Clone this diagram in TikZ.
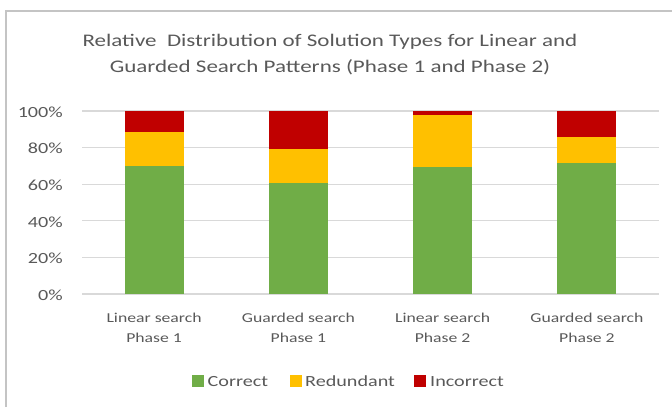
\documentclass[tikz,border=0pt]{standalone}
\usepackage{fontspec}
\setmainfont{Carlito}[FakeStretch=1.3]
\definecolor{okgreen}{HTML}{70AD47}
\definecolor{redund}{HTML}{FFC000}
\definecolor{wrong}{HTML}{C00000}
\definecolor{txtgray}{HTML}{595959}
\definecolor{gridgray}{HTML}{D9D9D9}
\definecolor{framegray}{HTML}{C4C4C4}
\begin{document}
\begin{tikzpicture}[x=1pt,y=-1pt,
    lbl/.style={text=txtgray,inner sep=0pt,font=\fontsize{15.5}{18}\selectfont},
    catlbl/.style={text=txtgray,inner sep=0pt,anchor=base,font=\fontsize{13.6}{16}\selectfont},
    ttl/.style={text=txtgray,inner sep=0pt,anchor=base,font=\fontsize{17.7}{21}\selectfont},
    gridln/.style={gridgray,line width=1.3pt},
    keybox/.style={minimum size=12pt,inner sep=0pt}]
  \useasboundingbox (0,0) rectangle (672,407);
  \draw [framegray, line width=1.4pt] (6,407) -- (6,11) -- (672,11);
  % title
  \node [ttl] (title1) at (330,46) {Relative\ \ Distribution of Solution Types for Linear and};
  \node [ttl] (title2) at (330,72.7) {Guarded Search Patterns (Phase 1 and Phase 2)};
  % grid and axis
  \draw [gridln] (82,294) -- (659,294);
  \draw [gridln] (82,257.4) -- (659,257.4);
  \draw [gridln] (82,220.8) -- (659,220.8);
  \draw [gridln] (82,184.2) -- (659,184.2);
  \draw [gridln] (82,147.6) -- (659,147.6);
  \draw [gridln] (82,111) -- (659,111);
  \node [lbl,anchor=east] (p0) at (63,295) {0\%};
  \node [lbl,anchor=east] (p20) at (63,258.4) {20\%};
  \node [lbl,anchor=east] (p40) at (63,221.8) {40\%};
  \node [lbl,anchor=east] (p60) at (63,185.2) {60\%};
  \node [lbl,anchor=east] (p80) at (63,148.6) {80\%};
  \node [lbl,anchor=east] (p100) at (63,112) {100\%};
  % bars
  \fill [okgreen] (124.6,294) rectangle (183.6,165.9);
  \fill [redund]  (124.6,165.9) rectangle (183.6,131.7);
  \fill [wrong]   (124.6,131.7) rectangle (183.6,111);
  \fill [okgreen] (268.9,294) rectangle (327.9,182.9);
  \fill [redund]  (268.9,182.9) rectangle (327.9,149.4);
  \fill [wrong]   (268.9,149.4) rectangle (327.9,111);
  \fill [okgreen] (413.1,294) rectangle (472.1,167.4);
  \fill [redund]  (413.1,167.4) rectangle (472.1,115.4);
  \fill [wrong]   (413.1,115.4) rectangle (472.1,111);
  \fill [okgreen] (557.4,294) rectangle (616.4,162.8);
  \fill [redund]  (557.4,162.8) rectangle (616.4,136.7);
  \fill [wrong]   (557.4,136.7) rectangle (616.4,111);
  % categories
  \node [catlbl] (lin1)  at (154.1,322.5) {Linear search};
  \node [catlbl] (lin1b) at (154.1,342.5) {Phase 1};
  \node [catlbl] (grd1)  at (298.4,322.5) {Guarded search};
  \node [catlbl] (grd1b) at (298.4,342.5) {Phase 1};
  \node [catlbl] (lin2)  at (442.6,322.5) {Linear search};
  \node [catlbl] (lin2b) at (442.6,342.5) {Phase 2};
  \node [catlbl] (grd2)  at (586.9,322.5) {Guarded search};
  \node [catlbl] (grd2b) at (586.9,342.5) {Phase 2};
  % legend
  \node [keybox,fill=okgreen] (kcor) at (198,381) {};
  \node [lbl,anchor=west] (tcor) at (207.5,381.5) {Correct};
  \node [keybox,fill=redund] (kred) at (295.5,381) {};
  \node [lbl,anchor=west] (tred) at (305,381.5) {Redundant};
  \node [keybox,fill=wrong] (kinc) at (420,381) {};
  \node [lbl,anchor=west] (tinc) at (430,381.5) {Incorrect};
\end{tikzpicture}
\end{document}
